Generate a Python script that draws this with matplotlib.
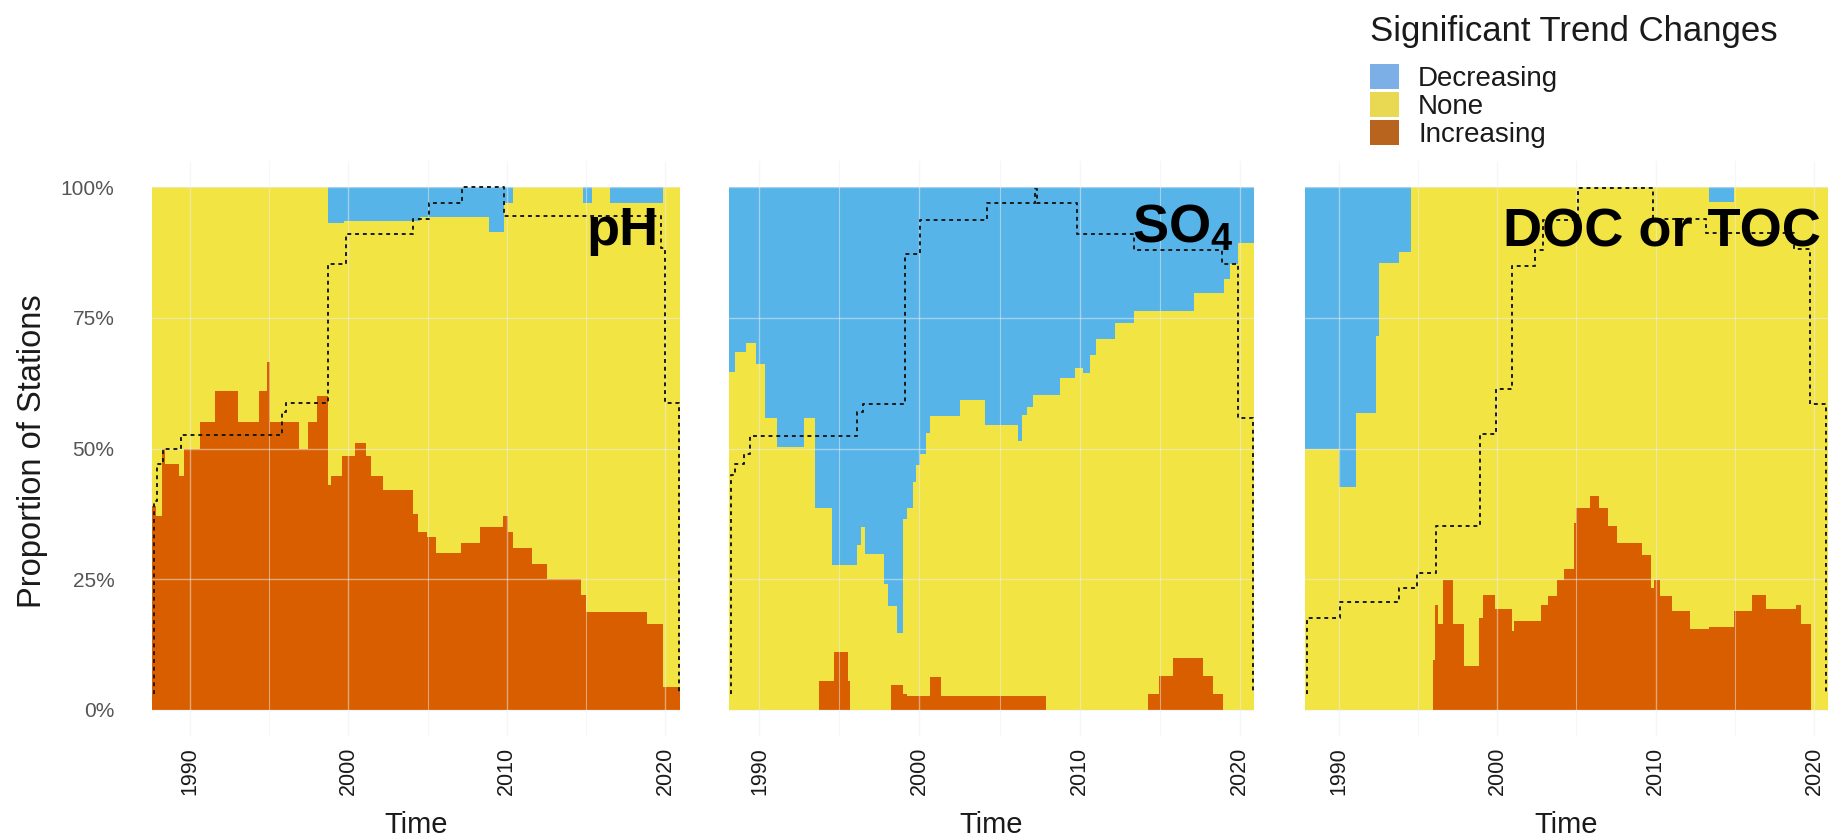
import numpy as np
import matplotlib
matplotlib.use("Agg")
import matplotlib.pyplot as plt
from matplotlib.patches import Patch

plt.rcParams['font.family'] = ['Liberation Sans', 'DejaVu Sans']
plt.rcParams['mathtext.fontset'] = 'custom'
plt.rcParams['mathtext.rm'] = 'Liberation Sans'
plt.rcParams['mathtext.bf'] = 'Liberation Sans:bold'

# ---------------- data ----------------
categories = ["Decreasing", "None", "Increasing"]
legend_title = "Significant Trend Changes"
panel_labels = ["pH", r"$\mathbf{SO_4}$", "DOC or TOC"]
x_ticks = [1990, 2000, 2010, 2020]
x_tick_labels = ["1990", "2000", "2010", "2020"]
y_ticks = [0.0, 0.25, 0.50, 0.75, 1.0]
y_tick_labels = ["0%", "25%", "50%", "75%", "100%"]

# pH
ph_inc_edges = [1987.6, 1987.88, 1988.22, 1988.45, 1989.29, 1989.63, 1990.62, 1991.55, 1993.01,
                1994.37, 1994.88, 1995.02, 1996.85, 1997.47, 1998.03, 1998.74, 1998.88, 1999.59,
                2000.43, 2001.14, 2001.42, 2002.21, 2004.10, 2004.38, 2004.94, 2005.51, 2007.11,
                2008.33, 2009.74, 2010.08, 2010.39, 2011.57, 2012.56, 2014.67, 2015.01, 2018.85,
                2019.89, 2020.95]
ph_inc_vals = [0.39, 0.37, 0.50, 0.47, 0.447, 0.50, 0.55, 0.61, 0.55, 0.61, 0.666, 0.55, 0.50,
               0.55, 0.60, 0.43, 0.447, 0.485, 0.51, 0.485, 0.447, 0.42, 0.375, 0.34, 0.33, 0.30,
               0.32, 0.35, 0.37, 0.34, 0.31, 0.28, 0.25, 0.22, 0.188, 0.164, 0.044]
ph_top_edges = [1987.6, 1998.74, 1999.73, 2004.52, 2008.89, 2009.82, 2010.39, 2014.81, 2015.38,
                2016.51, 2019.89, 2020.95]
ph_top_vals = [1.0, 0.932, 0.935, 0.942, 0.915, 0.97, 1.0, 0.97, 1.0, 0.97, 1.0]
ph_n_edges = [1987.72, 1987.9, 1988.3, 1989.4, 1995.78, 1996.06, 1998.74, 1999.87, 2004.10,
              2005.09, 2007.18, 2009.85, 2019.71, 2020.0, 2020.85]
ph_n_vals = [0.40, 0.47, 0.50, 0.525, 0.57, 0.587, 0.853, 0.91, 0.939, 0.97, 1.0, 0.945, 0.884, 0.587]

# SO4
so4_inc_edges = [1993.71, 1994.67, 1995.51, 1995.67, 1998.25, 1998.97, 1999.21, 2000.64, 2001.36,
                 2007.93, 2014.26, 2014.98, 2015.81, 2017.72, 2018.32, 2018.99]
so4_inc_vals = [0.055, 0.11, 0.055, 0.0, 0.048, 0.03, 0.027, 0.062, 0.027, 0.0, 0.03, 0.065, 0.10,
                0.065, 0.03]
so4_top_edges = [1988.1, 1988.46, 1989.18, 1989.77, 1990.37, 1991.09, 1992.76, 1993.48, 1994.55,
                 1996.10, 1996.34, 1996.58, 1997.78, 1998.01, 1998.61, 1998.97, 1999.21, 1999.57,
                 1999.81, 2000.05, 2000.40, 2000.64, 2002.55, 2004.11, 2006.14, 2006.38, 2006.73,
                 2007.09, 2008.76, 2009.72, 2010.20, 2010.68, 2011.03, 2012.23, 2013.42, 2017.13,
                 2019.04, 2019.40, 2019.87, 2020.9]
so4_top_vals = [0.647, 0.685, 0.702, 0.661, 0.558, 0.503, 0.558, 0.387, 0.277, 0.315, 0.35, 0.298,
                0.24, 0.199, 0.147, 0.366, 0.387, 0.435, 0.469, 0.49, 0.53, 0.562, 0.592, 0.545,
                0.514, 0.565, 0.579, 0.603, 0.634, 0.654, 0.644, 0.678, 0.709, 0.74, 0.764, 0.798,
                0.825, 0.853, 0.894]
so4_n_edges = [1988.22, 1988.46, 1989.06, 1989.41, 1996.10, 1996.46, 1999.1, 2000.05, 2004.23,
               2007.21, 2007.33, 2009.84, 2013.42, 2018.92, 2019.87, 2020.83]
so4_n_vals = [0.449, 0.47, 0.49, 0.524, 0.57, 0.586, 0.873, 0.938, 0.969, 0.997, 0.969, 0.91, 0.88,
              0.853, 0.558]

# DOC or TOC
doc_inc_edges = [1995.93, 1996.09, 1996.26, 1996.56, 1997.23, 1997.94, 1998.84, 1999.11, 1999.89,
                 2000.97, 2001.08, 2002.76, 2003.20, 2003.76, 2004.21, 2004.88, 2004.99, 2005.89,
                 2006.45, 2007.01, 2007.57, 2009.14, 2009.70, 2009.92, 2010.26, 2011.04, 2012.16,
                 2013.39, 2014.96, 2016.08, 2016.97, 2018.88, 2019.21, 2019.82]
doc_inc_vals = [0.096, 0.20, 0.165, 0.248, 0.165, 0.083, 0.176, 0.22, 0.193, 0.15, 0.17, 0.20,
                0.217, 0.248, 0.269, 0.358, 0.386, 0.41, 0.386, 0.351, 0.32, 0.296, 0.234, 0.248,
                0.217, 0.189, 0.155, 0.158, 0.189, 0.22, 0.193, 0.20, 0.165]
doc_top_edges = [1987.87, 1990.00, 1991.12, 1992.35, 1992.57, 1993.80, 1994.59, 2013.39, 2014.96,
                 2020.89]
doc_top_vals = [0.499, 0.427, 0.568, 0.716, 0.854, 0.875, 1.0, 0.971, 1.0]
doc_n_edges = [1987.98, 1990.11, 1993.80, 1994.92, 1996.15, 1998.95, 1999.96, 2000.97, 2002.42,
               2002.87, 2005.11, 2009.81, 2013.17, 2018.76, 2019.77, 2020.78]
doc_n_vals = [0.176, 0.207, 0.234, 0.262, 0.351, 0.527, 0.613, 0.85, 0.88, 0.937, 0.999, 0.94,
              0.913, 0.882, 0.585]

x_limits = [(1987.6, 2021.0), (1988.1, 2020.9), (1987.87, 2020.89)]
n_baseline = 0.03

# ---------------- style ----------------
fill_colors = {"Decreasing": "#56B4E9", "None": "#F2E443", "Increasing": "#D85E00"}
legend_colors = {"Decreasing": "#7BAFE5", "None": "#E9D952", "Increasing": "#B8641F"}

W, H = 1836, 840
fig = plt.figure(figsize=(W / 100, H / 100), dpi=100)
fig.patch.set_facecolor("white")

ax_lefts = [152, 729, 1305]
ax_widths = [529, 525, 523]
ax_top, ax_bot = 161, 736
label_pos = [(0.957, 0.854), (0.962, 0.858), (0.987, 0.852)]

data = [
    (ph_inc_edges, ph_inc_vals, ph_top_edges, ph_top_vals, ph_n_edges, ph_n_vals),
    (so4_inc_edges, so4_inc_vals, so4_top_edges, so4_top_vals, so4_n_edges, so4_n_vals),
    (doc_inc_edges, doc_inc_vals, doc_top_edges, doc_top_vals, doc_n_edges, doc_n_vals),
]

axes = []
for i, (ie, iv, te, tv, ne, nv) in enumerate(data):
    ax = fig.add_axes([ax_lefts[i] / W, 1 - ax_bot / H, ax_widths[i] / W, (ax_bot - ax_top) / H])
    axes.append(ax)
    tv = np.asarray(tv)
    # None (yellow) from 0 to top, Decreasing (blue) from top to 1, Increasing (orange) from 0
    ax.stairs(tv, te, baseline=0, fill=True, color=fill_colors["None"], lw=0, zorder=1)
    ax.stairs(np.ones_like(tv), te, baseline=tv, fill=True, color=fill_colors["Decreasing"],
              lw=0, zorder=1)
    ax.stairs(iv, ie, baseline=0, fill=True, color=fill_colors["Increasing"], lw=0, zorder=1.1)

    ne = np.asarray(ne)
    nv = np.asarray(nv)
    xs = np.repeat(ne, 2)
    ys = np.concatenate([[n_baseline], np.repeat(nv, 2), [n_baseline]])
    ax.plot(xs, ys, color="#1a1a1a", lw=1.4, ls=(0, (2.0, 2.0)), zorder=3)

    ax.set_xlim(*x_limits[i])
    ax.set_ylim(-0.05, 1.05)
    ax.set_xticks(x_ticks)
    ax.set_xticklabels(x_tick_labels, rotation=90, fontsize=15.5, color="#1a1a1a")
    ax.set_xticks([1995, 2005, 2015], minor=True)
    ax.set_yticks(y_ticks)
    if i == 0:
        ax.set_yticklabels(y_tick_labels, fontsize=15, color="#555555")
    else:
        ax.set_yticklabels([])
    ax.tick_params(axis="both", which="both", length=0)
    ax.tick_params(axis="x", pad=8)
    ax.tick_params(axis="y", pad=27)
    for s in ax.spines.values():
        s.set_visible(False)
    ax.set_axisbelow(False)
    ax.grid(which="major", color="#EEEEEE", alpha=0.5, lw=1.0, zorder=2)
    ax.grid(which="minor", axis="x", color="#EEEEEE", alpha=0.5, lw=0.8, zorder=2)
    ax.set_facecolor("white")
    ax.set_xlabel("Time", fontsize=21, color="#1a1a1a", labelpad=11)

    ax.text(label_pos[i][0], label_pos[i][1], panel_labels[i], transform=ax.transAxes,
            ha="right", va="baseline", fontsize=39, fontweight="bold", color="black", zorder=5)

fig.text(33 / W, 1 - 451 / H, "Proportion of Stations", rotation=90, ha="center", va="center",
         fontsize=23.5, color="#1a1a1a")

fig.text(1370 / W, 1 - 41 / H, legend_title, ha="left", va="baseline", fontsize=25,
         color="#1a1a1a")
handles = [Patch(facecolor=legend_colors[c], edgecolor="none") for c in categories]
leg = fig.legend(handles, categories, loc="upper left",
                 bbox_to_anchor=(1370 / W, 1 - 64 / H), frameon=False, fontsize=20,
                 handlelength=1.05, handleheight=1.0, handletextpad=0.68,
                 labelspacing=0.0, borderpad=0, borderaxespad=0)
for t in leg.get_texts():
    t.set_color("#1a1a1a")

fig.savefig("out.png", dpi=100, facecolor="white")
